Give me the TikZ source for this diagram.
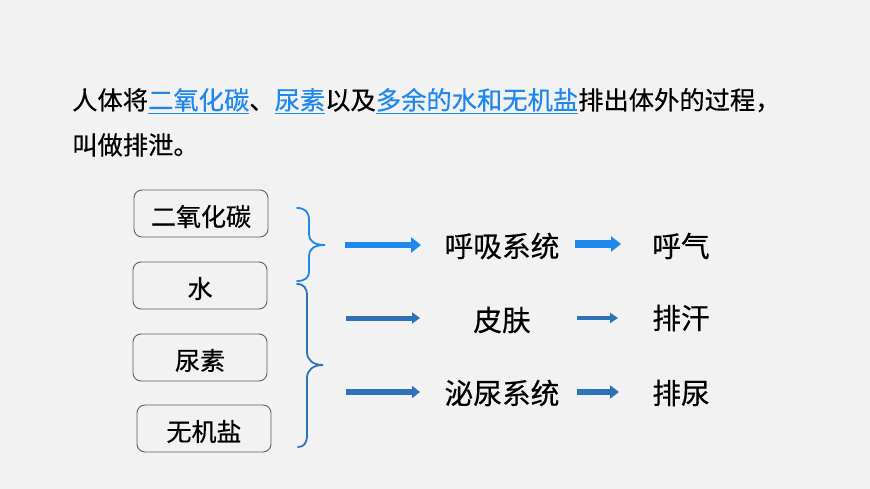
\documentclass[tikz,border=0pt]{standalone}
\usepackage{fontspec}
\setmainfont[FakeBold=0.45]{Noto Sans CJK SC}
\usetikzlibrary{arrows.meta}
\definecolor{bg}{HTML}{F2F2F2}
\definecolor{linkblue}{HTML}{1E88F0}
\definecolor{brightblue}{HTML}{1E88EC}
\definecolor{darkblue}{HTML}{2E72B8}
\definecolor{boxline}{HTML}{56606C}
\tikzset{
  para/.style={anchor=base west, inner sep=0pt, font=\fontsize{25.3}{30}\selectfont},
  itembox/.style={draw=boxline, line width=0.9pt, rounded corners=8pt, minimum width=134pt, minimum height=47pt, inner sep=0pt, text height=25pt, text depth=0pt, font=\fontsize{25}{30}\selectfont},
  label/.style={inner sep=0pt, font=\fontsize{28.7}{34}\selectfont},
  bracecurve/.style={line width=1.8pt, line cap=round},
}
\begin{document}
\begin{tikzpicture}[x=1pt,y=-1pt]
\useasboundingbox (0,0) rectangle (870,489);
\fill[bg] (0,0) rectangle (870,489);

% paragraph
\node[para] (l1) at (72,109.5) {人体将\textcolor{linkblue}{\underline{二氧化碳}}、\textcolor{linkblue}{\underline{尿素}}以及\textcolor{linkblue}{\underline{多余的水和无机盐}}排出体外的过程，};
\node[para] (l2) at (72,154.5) {叫做排泄。};

% left boxes
\node[itembox] (co2) at (201,213.5) {二氧化碳};
\node[itembox] (water) at (200,285.5) {水};
\node[itembox] (urea) at (200,357.5) {尿素};
\node[itembox] (salt) at (204,428.5) {无机盐};

% braces
\draw[bracecurve, brightblue] (297,208) .. controls (305,208) and (309,212) .. (309,220) -- (309,234)
  .. controls (309,241) and (314,245) .. (325,245)
  .. controls (314,245) and (309,249) .. (309,256) -- (309,271)
  .. controls (309,278) and (305,281) .. (297,281);
\draw[bracecurve, darkblue] (297,284) .. controls (304,284) and (307,288) .. (307,296) -- (307,352)
  .. controls (307,360) and (313,365) .. (323,365)
  .. controls (313,365) and (307,370) .. (307,378) -- (307,435)
  .. controls (307,443) and (304,447) .. (298,447);

% middle and right labels
\node[label] (resp) at (502,246) {呼吸系统};
\node[label] (skin) at (502,320) {皮肤};
\node[label] (urin) at (502,393) {泌尿系统};
\node[label] (breath) at (681,246) {呼气};
\node[label] (sweat) at (681,318) {排汗};
\node[label] (pee) at (681,393) {排尿};

% arrow end points
\coordinate (a1s) at (345,245);
\coordinate (a1e) at (421,245);
\coordinate (a2s) at (346,318);
\coordinate (a2e) at (420,318);
\coordinate (a3s) at (346,392);
\coordinate (a3e) at (420,392);
\coordinate (b1s) at (575,244);
\coordinate (b1e) at (621,244);
\coordinate (b2s) at (577,318);
\coordinate (b2e) at (618,318);
\coordinate (b3s) at (577,392);
\coordinate (b3e) at (619,392);

\draw[brightblue, line width=6pt, -{Triangle[length=10pt,width=15pt]}] (a1s) -- (a1e);
\draw[darkblue, line width=5pt, -{Triangle[length=8pt,width=11pt]}] (a2s) -- (a2e);
\draw[darkblue, line width=5.5pt, -{Triangle[length=8pt,width=12pt]}] (a3s) -- (a3e);

\draw[brightblue, line width=7pt, -{Triangle[length=10pt,width=15pt]}] (b1s) -- (b1e);
\draw[darkblue, line width=3.5pt, -{Triangle[length=8pt,width=10pt]}] (b2s) -- (b2e);
\draw[darkblue, line width=6.5pt, -{Triangle[length=9pt,width=13pt]}] (b3s) -- (b3e);
\end{tikzpicture}
\end{document}
